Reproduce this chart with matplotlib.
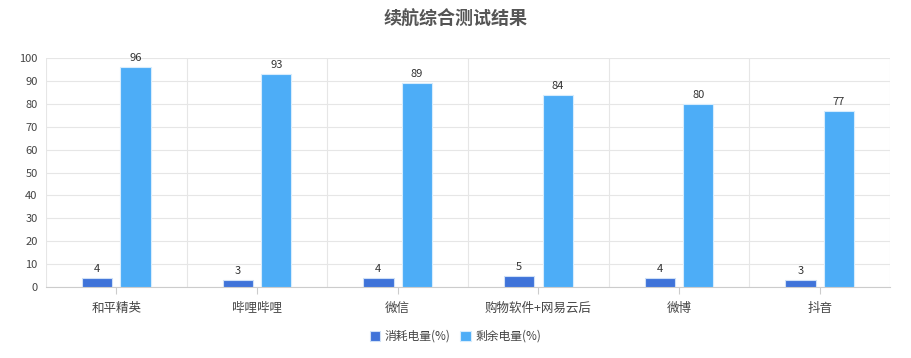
import matplotlib
matplotlib.use("Agg")
import matplotlib.pyplot as plt
import numpy as np

plt.rcParams['font.family'] = ['Noto Sans CJK SC', 'DejaVu Sans']

categories = ['和平精英', '哔哩哔哩', '微信', '购物软件+网易云后', '微博', '抖音']
used = [4, 3, 4, 5, 4, 3]
remain = [96, 93, 89, 84, 80, 77]
series_names = ['消耗电量(%)', '剩余电量(%)']
colors = ['#3f73d9', '#4dadf7']

fig = plt.figure(figsize=(9.11, 3.58), dpi=100)
ax = fig.add_axes([0.0505, 0.198, 0.9265, 0.64])

x = np.arange(len(categories))
w = 0.215
off = 0.137
b1 = ax.bar(x - off, used, w, color=colors[0], edgecolor='#cfe0f7', linewidth=0.8, label=series_names[0], zorder=3)
b2 = ax.bar(x + off, remain, w, color=colors[1], edgecolor='#d6ecfd', linewidth=0.8, label=series_names[1], zorder=3)

for bars in (b1, b2):
    for r in bars:
        ax.text(r.get_x() + r.get_width() / 2, r.get_height() + 1.8, str(int(r.get_height())),
                ha='center', va='bottom', fontsize=8, color='#333333')

ax.set_xlim(-0.5, len(categories) - 0.5)
ax.set_ylim(0, 100)
ax.set_yticks(range(0, 101, 10))
ax.set_xticks(x)
ax.set_xticklabels(categories, fontsize=9, color='#444444')
ax.set_xticks(np.arange(-0.5, len(categories), 1), minor=True)

ax.grid(axis='y', color='#e6e6e6', linewidth=0.8, zorder=0)
ax.grid(axis='x', which='minor', color='#e6e6e6', linewidth=0.8, zorder=0)
ax.tick_params(axis='x', which='major', length=5, color='#cccccc', pad=6)
ax.tick_params(axis='x', which='minor', length=0)
ax.tick_params(axis='y', length=0, labelsize=8, labelcolor='#444444', pad=6)

for s in ['top', 'right', 'left']:
    ax.spines[s].set_visible(False)
ax.spines['bottom'].set_color('#cccccc')

fig.text(0.5, 0.945, '续航综合测试结果', ha='center', va='center', fontsize=13,
         fontweight='bold', color='#555555')

leg = fig.legend(handles=[b1, b2], labels=series_names, loc='center', bbox_to_anchor=(0.5, 0.06),
                 ncol=2, frameon=False, fontsize=8.5, handlelength=0.9, handleheight=0.9,
                 handletextpad=0.4, columnspacing=0.8)
for t in leg.get_texts():
    t.set_color('#444444')

fig.savefig('out.png', dpi=100)
